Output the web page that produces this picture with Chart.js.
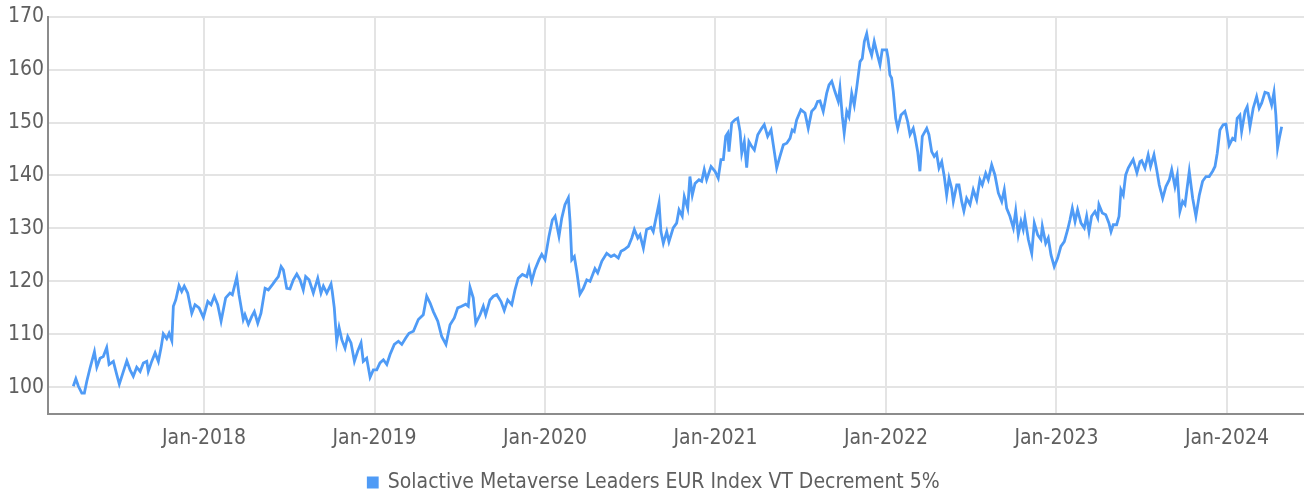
<!DOCTYPE html>
<html>
<head>
<meta charset="utf-8">
<script src="https://cdn.jsdelivr.net/npm/chart.js@4/dist/chart.umd.min.js"></script>
<style>
  html, body { margin: 0; padding: 0; background: #fff; }
  #wrap { width: 1304px; height: 494px; }
</style>
</head>
<body>
<div id="wrap"><canvas id="chartIndex"></canvas></div>
<script>
// series name
const seriesLabel = 'Solactive Metaverse Leaders EUR Index VT Decrement 5%';

// x ticks (January of each year) and y ticks
const tickYears = [2018, 2019, 2020, 2021, 2022, 2023, 2024];
const yTicks = [100, 110, 120, 130, 140, 150, 160, 170];

// dates as decimal years
const dates = [
  2017.233, 2017.248, 2017.263, 2017.283, 2017.298, 2017.312, 2017.331, 2017.357, 2017.371, 2017.390,
  2017.409, 2017.429, 2017.443, 2017.468, 2017.488, 2017.503, 2017.527, 2017.547, 2017.566, 2017.585,
  2017.605, 2017.625, 2017.644, 2017.664, 2017.673, 2017.693, 2017.713, 2017.732, 2017.748, 2017.761,
  2017.781, 2017.795, 2017.811, 2017.820, 2017.834, 2017.853, 2017.869, 2017.884, 2017.904, 2017.928,
  2017.947, 2017.971, 2017.996,
  2018.022, 2018.041, 2018.060, 2018.080, 2018.100, 2018.127, 2018.152, 2018.166, 2018.192, 2018.205,
  2018.230, 2018.240, 2018.260, 2018.280, 2018.295, 2018.315, 2018.334, 2018.358, 2018.377, 2018.401,
  2018.421, 2018.436, 2018.452, 2018.465, 2018.485, 2018.504, 2018.524, 2018.544, 2018.563, 2018.582,
  2018.596, 2018.616, 2018.641, 2018.667, 2018.686, 2018.700, 2018.720, 2018.745, 2018.752, 2018.764,
  2018.778, 2018.792, 2018.808, 2018.827, 2018.843, 2018.862, 2018.882, 2018.901, 2018.921, 2018.934,
  2018.954, 2018.974, 2018.993,
  2019.013, 2019.032, 2019.052, 2019.072, 2019.091, 2019.116, 2019.140, 2019.160, 2019.183, 2019.202,
  2019.228, 2019.257, 2019.286, 2019.306, 2019.326, 2019.345, 2019.371, 2019.394, 2019.419, 2019.443,
  2019.468, 2019.488, 2019.511, 2019.535, 2019.550, 2019.560, 2019.579, 2019.594, 2019.619, 2019.638,
  2019.652, 2019.677, 2019.697, 2019.717, 2019.742, 2019.761, 2019.781, 2019.805, 2019.824, 2019.843,
  2019.867, 2019.893, 2019.906, 2019.922, 2019.941, 2019.965, 2019.981,
  2020.000, 2020.023, 2020.043, 2020.059, 2020.082, 2020.098, 2020.117, 2020.137, 2020.147, 2020.157,
  2020.172, 2020.186, 2020.205, 2020.225, 2020.245, 2020.264, 2020.293, 2020.309, 2020.333, 2020.362,
  2020.387, 2020.406, 2020.430, 2020.446, 2020.465, 2020.489, 2020.509, 2020.524, 2020.544, 2020.557,
  2020.577, 2020.596, 2020.622, 2020.635, 2020.655, 2020.669, 2020.680, 2020.694, 2020.714, 2020.727,
  2020.752, 2020.772, 2020.786, 2020.805, 2020.817, 2020.837, 2020.850, 2020.864, 2020.880, 2020.903,
  2020.919, 2020.934, 2020.948, 2020.974, 2020.997,
  2021.016, 2021.032, 2021.046, 2021.060, 2021.072, 2021.079, 2021.095, 2021.114, 2021.130, 2021.144,
  2021.154, 2021.169, 2021.183, 2021.196, 2021.212, 2021.228, 2021.248, 2021.271, 2021.286, 2021.306,
  2021.326, 2021.345, 2021.359, 2021.378, 2021.398, 2021.418, 2021.437, 2021.450, 2021.462, 2021.476,
  2021.501, 2021.525, 2021.544, 2021.564, 2021.584, 2021.599, 2021.613, 2021.632, 2021.652, 2021.666,
  2021.682, 2021.701, 2021.720, 2021.730, 2021.744, 2021.755, 2021.770, 2021.783, 2021.799, 2021.814,
  2021.828, 2021.848, 2021.861, 2021.873, 2021.887, 2021.900, 2021.916, 2021.931, 2021.945, 2021.965,
  2021.978,
  2022.004, 2022.013, 2022.023, 2022.033, 2022.043, 2022.057, 2022.069, 2022.088, 2022.111, 2022.127,
  2022.141, 2022.160, 2022.170, 2022.186, 2022.199, 2022.213, 2022.239, 2022.252, 2022.268, 2022.283,
  2022.297, 2022.311, 2022.327, 2022.342, 2022.356, 2022.370, 2022.385, 2022.395, 2022.415, 2022.428,
  2022.444, 2022.457, 2022.473, 2022.493, 2022.512, 2022.532, 2022.551, 2022.565, 2022.585, 2022.600,
  2022.620, 2022.639, 2022.659, 2022.679, 2022.694, 2022.708, 2022.727, 2022.747, 2022.761, 2022.776,
  2022.792, 2022.805, 2022.815, 2022.835, 2022.855, 2022.870, 2022.890, 2022.909, 2022.917, 2022.937,
  2022.952, 2022.968, 2022.987,
  2023.007, 2023.026, 2023.046, 2023.066, 2023.079, 2023.093, 2023.109, 2023.124, 2023.144, 2023.163,
  2023.177, 2023.191, 2023.206, 2023.226, 2023.242, 2023.249, 2023.269, 2023.289, 2023.308, 2023.320,
  2023.333, 2023.353, 2023.367, 2023.378, 2023.392, 2023.406, 2023.421, 2023.437, 2023.450, 2023.472,
  2023.490, 2023.500, 2023.519, 2023.538, 2023.552, 2023.572, 2023.588, 2023.603, 2023.623, 2023.642,
  2023.662, 2023.676, 2023.695, 2023.709, 2023.724, 2023.740, 2023.754, 2023.779, 2023.799, 2023.818,
  2023.838, 2023.857, 2023.877, 2023.896, 2023.916, 2023.930, 2023.943, 2023.959, 2023.978, 2023.994,
  2024.013, 2024.033, 2024.047, 2024.060, 2024.076, 2024.086, 2024.106, 2024.119, 2024.135, 2024.154,
  2024.174, 2024.189, 2024.204, 2024.223, 2024.242, 2024.262, 2024.276, 2024.287, 2024.297, 2024.307,
  2024.321
];

// index level
const values = [
  100.2, 101.6, 100.2, 98.9, 98.9, 101.1, 103.6, 106.7, 103.8, 105.5,
  105.8, 107.5, 104.3, 104.9, 102.4, 100.6, 103.0, 105.0, 103.3, 102.1,
  103.8, 103.0, 104.6, 104.9, 103.0, 104.9, 106.5, 104.9, 107.5, 110.1,
  109.2, 110.2, 108.8, 115.3, 116.5, 119.2, 118.1, 119.1, 117.8, 114.0,
  115.6, 115.0, 113.2,
  116.2, 115.6, 117.2, 115.6, 112.5, 116.9, 117.8, 117.5, 120.8, 117.5,
  112.8, 113.7, 111.9, 113.4, 114.3, 112.1, 114.0, 118.7, 118.4, 119.4,
  120.3, 120.9, 122.8, 122.2, 118.7, 118.6, 120.3, 121.4, 120.3, 118.4,
  120.9, 120.3, 117.8, 120.6, 117.8, 119.1, 117.8, 119.5, 118.1, 115.0,
  108.7, 111.3, 109.0, 107.4, 109.6, 108.4, 104.9, 106.8, 108.4, 104.9,
  105.5, 101.9, 103.3,
  103.3, 104.6, 105.2, 104.3, 106.2, 108.1, 108.7, 108.1, 109.3, 110.2,
  110.6, 112.8, 113.7, 117.2, 115.9, 114.3, 112.5, 109.6, 108.1, 111.8,
  113.1, 115.0, 115.3, 115.7, 115.3, 118.9, 116.9, 112.1, 113.7, 115.3,
  113.7, 116.5, 117.2, 117.5, 116.2, 114.5, 116.5, 115.6, 118.4, 120.6,
  121.3, 120.9, 122.5, 120.0, 122.2, 124.1, 125.1,
  124.1, 128.5, 131.6, 132.3, 128.5, 131.9, 134.5, 135.8, 131.3, 124.1,
  124.7, 121.9, 117.6, 118.7, 120.3, 120.0, 122.4, 121.6, 123.8, 125.3,
  124.7, 125.0, 124.4, 125.7, 126.0, 126.6, 128.2, 129.8, 128.2, 128.8,
  126.3, 129.8, 130.2, 129.4, 132.6, 134.8, 129.4, 127.2, 129.4, 127.5,
  130.1, 131.0, 133.5, 132.3, 136.0, 133.8, 139.8, 136.3, 138.5, 139.2,
  138.9, 141.1, 139.2, 141.7, 140.8,
  139.5, 143.0, 143.0, 147.4, 148.0, 144.5, 149.9, 150.5, 150.8, 148.3,
  144.2, 146.4, 141.5, 146.4, 145.5, 144.8, 147.7, 148.9, 149.6, 147.4,
  148.6, 144.5, 141.4, 143.6, 145.8, 146.1, 147.0, 148.6, 148.3, 150.5,
  152.4, 151.8, 148.9, 152.1, 152.8, 154.0, 154.1, 152.1, 155.5, 157.1,
  157.8, 155.8, 154.0, 156.5, 151.1, 148.0, 152.1, 151.1, 155.5, 153.3,
  156.5, 161.5, 162.1, 165.3, 166.8, 164.3, 162.7, 165.3, 163.4, 160.9,
  163.7,
  163.7, 162.1, 159.0, 158.4, 155.8, 150.8, 148.9, 151.4, 152.1, 150.2,
  147.7, 148.9, 147.4, 144.5, 140.8, 147.4, 148.9, 147.7, 144.5, 143.6,
  144.2, 141.4, 142.6, 139.8, 136.3, 139.5, 137.6, 135.1, 138.2, 138.2,
  135.1, 133.3, 135.7, 134.5, 137.3, 135.4, 139.2, 138.2, 140.4, 139.2,
  142.0, 140.1, 136.7, 135.1, 137.3, 133.8, 132.3, 130.1, 133.3, 128.8,
  131.3, 129.8, 132.0, 127.9, 125.3, 131.0, 128.8, 127.9, 130.4, 127.2,
  128.2, 125.0, 122.8,
  124.4, 126.6, 127.5, 129.8, 131.6, 133.8, 131.3, 133.5, 131.0, 130.1,
  132.3, 129.4, 132.3, 133.2, 132.0, 134.5, 132.9, 132.6, 131.0, 129.4,
  130.7, 130.7, 132.3, 137.3, 136.3, 140.1, 141.4, 142.3, 143.0, 140.5,
  142.6, 142.8, 141.4, 143.9, 141.7, 143.9, 141.1, 138.2, 135.7, 137.9,
  139.2, 141.1, 137.9, 140.1, 133.2, 135.1, 134.5, 140.8, 135.7, 132.3,
  136.3, 138.9, 139.8, 139.8, 140.8, 141.7, 144.2, 148.6, 149.6, 149.7,
  145.7, 147.0, 146.7, 150.8, 151.4, 148.3, 152.1, 153.0, 149.2, 152.7,
  154.9, 152.7, 153.7, 155.7, 155.5, 153.3, 155.7, 151.4, 145.2, 147.0,
  149.2
];

const points = dates.map(function (d, i) { return { x: d, y: values[i] }; });

const lineBlue = '#4f9bf6';
const textGrey = '#5f5f5f';
const gridGrey = '#e4e4e4';
const axisGrey = '#8c8c8c';
const fontFam = "'DejaVu Sans Condensed', Roboto, sans-serif";

const ctx = document.getElementById('chartIndex');
new Chart(ctx, {
    type: 'line',
    data: {
        datasets: [{
            label: seriesLabel,
            data: points,
            borderColor: lineBlue,
            backgroundColor: lineBlue,
            borderWidth: 2.8,
            pointRadius: 0,
            tension: 0
        }]
    },
    options: {
        responsive: true,
        maintainAspectRatio: false,
        animation: false,
        layout: { padding: { top: 1, right: 0, left: 4, bottom: -9 } },
        plugins: {
            tooltip: { enabled: false },
            legend: {
                position: 'bottom',
                labels: {
                    boxWidth: 9,
                    boxHeight: 9,
                    padding: 4,
                    color: textGrey,
                    font: { family: fontFam, size: 21 }
                }
            }
        },
        scales: {
            x: {
                type: 'linear',
                min: 2017.085,
                max: 2024.452,
                afterBuildTicks: function (axis) {
                    axis.ticks = tickYears.map(function (v) { return { value: v }; });
                },
                afterFit: function (axis) {
                    axis.height += 5;
                },
                ticks: {
                    color: textGrey,
                    padding: 12,
                    maxRotation: 0,
                    font: { family: fontFam, size: 21 },
                    callback: function (v) { return 'Jan-' + v; }
                },
                grid: { color: gridGrey, lineWidth: 2, drawTicks: false },
                border: { color: axisGrey, width: 2 }
            },
            y: {
                min: 95,
                max: 170,
                afterBuildTicks: function (axis) {
                    axis.ticks = yTicks.map(function (v) { return { value: v }; });
                },
                ticks: {
                    color: textGrey,
                    padding: 4,
                    font: { family: fontFam, size: 21 }
                },
                grid: { color: gridGrey, lineWidth: 2, drawTicks: false },
                border: { color: axisGrey, width: 2 }
            }
        }
    }
});
</script>
</body>
</html>
